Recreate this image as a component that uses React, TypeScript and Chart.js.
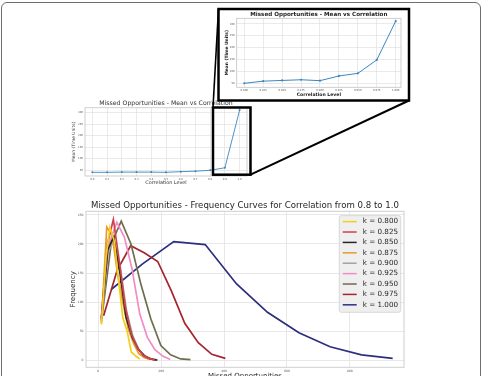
import React, { useEffect, useRef } from "react";
import { Chart, registerables } from "chart.js";

Chart.register(...registerables);

const FONT = '"DejaVu Sans", "Liberation Sans", sans-serif';

// ---- Mean vs correlation (full range) ----
const corrLevels = [0.0, 0.1, 0.2, 0.3, 0.4, 0.5, 0.6, 0.7, 0.8, 0.9, 1.0];
const corrMeans = [40, 40, 41, 41, 41, 40, 43, 45, 49, 60, 312];

// ---- Mean vs correlation (zoomed inset) ----
const insetLevels = [0.8, 0.825, 0.85, 0.875, 0.9, 0.925, 0.95, 0.975, 1.0];
const insetMeans = [49, 58, 61, 64, 60, 80, 91, 148, 312];
const meanTicks = [50, 100, 150, 200, 250, 300];

// ---- Frequency curves ----
const kLabels = [
  "k = 0.800", "k = 0.825", "k = 0.850", "k = 0.875", "k = 0.900",
  "k = 0.925", "k = 0.950", "k = 0.975", "k = 1.000",
];
const kColors = [
  "#F2CF1C", "#D2414B", "#262626", "#E59A2E", "#A3A3A3",
  "#F28CC4", "#6E6E4E", "#A3262E", "#2C2F7E",
];
const x800 = [10, 24, 37, 51, 64, 78, 92, 105, 119, 132];
const y800 = [62, 175, 228, 205, 140, 74, 50, 15, 8, 3];
const x825 = [10, 29, 48, 67, 86, 105, 124, 143, 162, 180];
const y825 = [75, 200, 242, 170, 92, 46, 22, 9, 4, 1];
const x850 = [10, 30, 49, 69, 88, 108, 127, 147, 166, 186];
const y850 = [72, 190, 212, 150, 75, 40, 20, 8, 3, 1];
const x875 = [10, 27, 44, 61, 78, 95, 112, 129, 147, 164];
const y875 = [64, 229, 215, 150, 100, 55, 30, 12, 5, 2];
const x900 = [10, 30, 50, 70, 90, 110, 130, 150, 170, 190];
const y900 = [70, 185, 207, 160, 85, 42, 18, 8, 3, 1];
const x925 = [10, 34, 59, 83, 107, 132, 156, 180, 205, 229];
const y925 = [70, 200, 237, 212, 158, 80, 40, 19, 8, 2];
const x950 = [10, 41, 73, 104, 136, 167, 199, 230, 262, 293];
const y950 = [68, 200, 239, 200, 130, 72, 26, 10, 3, 2];
const x975 = [17, 60, 103, 146, 189, 232, 275, 318, 361, 404];
const y975 = [77, 155, 197, 185, 170, 120, 64, 31, 11, 4];
const x1000 = [41, 141, 240, 340, 439, 538, 638, 737, 837, 936];
const y1000 = [122, 166, 204, 199, 132, 83, 48, 24, 10, 4];
const freqXs = [x800, x825, x850, x875, x900, x925, x950, x975, x1000];
const freqYs = [y800, y825, y850, y875, y900, y925, y950, y975, y1000];
const freqTicksX = [0, 200, 400, 600, 800];
const freqTicksY = [0, 50, 100, 150, 200, 250];

const frame = (color: string, width: number) => ({
  id: "frame",
  beforeDatasetsDraw(chart: any) {
    const { ctx, chartArea: a } = chart;
    ctx.save();
    ctx.strokeStyle = color;
    ctx.lineWidth = width;
    ctx.strokeRect(a.left, a.top, a.right - a.left, a.bottom - a.top);
    ctx.restore();
  },
});

const kLegend = {
  id: "kLegend",
  afterDraw(chart: any) {
    const { ctx, chartArea: a } = chart;
    const w = 61.4;
    const h = 96.7;
    const x0 = a.right - 3.3 - w;
    const y0 = a.top + 4.3;
    ctx.save();
    ctx.beginPath();
    if (ctx.roundRect) ctx.roundRect(x0, y0, w, h, 2);
    else ctx.rect(x0, y0, w, h);
    ctx.fillStyle = "rgba(238,238,238,0.95)";
    ctx.fill();
    ctx.strokeStyle = "#d0d0d0";
    ctx.lineWidth = 0.8;
    ctx.stroke();
    ctx.font = `7.2px ${FONT}`;
    ctx.textBaseline = "middle";
    chart.data.datasets.forEach((ds: any, i: number) => {
      const y = y0 + 6 + i * 10.4;
      ctx.strokeStyle = ds.borderColor;
      ctx.lineWidth = 1.5;
      ctx.beginPath();
      ctx.moveTo(x0 + 3.4, y);
      ctx.lineTo(x0 + 17.4, y);
      ctx.stroke();
      ctx.fillStyle = "#262626";
      ctx.fillText(ds.label, x0 + 23.4, y);
    });
    ctx.restore();
  },
};

const fixedTicks = (vals: number[]) => (scale: any) => {
  scale.ticks = vals.map((v) => ({ value: v }));
};

function meanConfig(p: any): any {
  return {
    type: "line",
    data: {
      datasets: [
        {
          data: p.xs.map((x: number, i: number) => ({ x, y: p.ys[i] })),
          borderColor: "#3b86bd",
          backgroundColor: "#3b86bd",
          borderWidth: p.lineW,
          pointRadius: p.ptR,
          pointBorderWidth: 0,
          tension: 0,
        },
      ],
    },
    options: {
      responsive: false,
      animation: false,
      devicePixelRatio: 1,
      layout: { padding: { left: 0, right: p.padRight, top: 0, bottom: 0 } },
      plugins: {
        legend: { display: false },
        tooltip: { enabled: false },
        title: {
          display: true,
          fullSize: false,
          text: "Missed Opportunities - Mean vs Correlation",
          color: p.titleColor,
          font: { family: FONT, size: p.titleSize, weight: p.bold ? "bold" : "normal", lineHeight: 1.2 },
          padding: { top: p.titlePadTop, bottom: p.titlePadBottom },
        },
      },
      scales: {
        x: {
          type: "linear",
          min: p.xMin,
          max: p.xMax,
          afterBuildTicks: fixedTicks(p.xs),
          afterFit: (s: any) => { s.height = p.xH; },
          grid: { color: "#dcdcdc", lineWidth: 0.6, drawTicks: false },
          border: { display: false },
          ticks: {
            font: { family: FONT, size: 2.6 },
            color: "#555",
            padding: 1.5,
            maxRotation: 0,
            autoSkip: false,
            callback: (v: number) => v.toFixed(p.dec),
          },
          title: {
            display: true,
            text: "Correlation Level",
            color: p.titleColor,
            font: { family: FONT, size: p.xTitleSize, weight: p.bold ? "bold" : "normal", lineHeight: 1.2 },
            padding: { top: 0, bottom: p.xTitlePad },
          },
        },
        y: {
          type: "linear",
          min: p.yMin,
          max: p.yMax,
          afterBuildTicks: fixedTicks(meanTicks),
          afterFit: (s: any) => { s.width = p.yW; },
          grid: { color: "#dcdcdc", lineWidth: 0.6, drawTicks: false },
          border: { display: false },
          ticks: {
            font: { family: FONT, size: 2.6 },
            color: "#555",
            padding: 2,
            autoSkip: false,
          },
          title: {
            display: true,
            text: "Mean (Time Units)",
            color: p.titleColor,
            font: { family: FONT, size: p.yTitleSize, weight: p.bold ? "bold" : "normal", lineHeight: 1.2 },
            padding: { top: p.yTitlePad, bottom: 0 },
          },
        },
      },
    },
    plugins: [frame("#c4c4c4", 0.8)],
  };
}

export default function App() {
  const insetRef = useRef<HTMLCanvasElement>(null);
  const midRef = useRef<HTMLCanvasElement>(null);
  const freqRef = useRef<HTMLCanvasElement>(null);

  useEffect(() => {
    const charts: Chart[] = [];

    charts.push(
      new Chart(insetRef.current!, meanConfig({
        xs: insetLevels, ys: insetMeans, xMin: 0.79, xMax: 1.007, yMin: 32, yMax: 324,
        dec: 3, padRight: 7, xH: 11.7, yW: 16.7,
        titleColor: "#222", titleSize: 5.6, bold: true, titlePadTop: 1.5, titlePadBottom: 0.1,
        xTitleSize: 4.6, xTitlePad: 1.6, yTitleSize: 4.4, yTitlePad: 3.9,
        lineW: 1, ptR: 1.1,
      }))
    );

    charts.push(
      new Chart(midRef.current!, meanConfig({
        xs: corrLevels, ys: corrMeans, xMin: -0.05, xMax: 1.05, yMin: 24, yMax: 322,
        dec: 1, padRight: 5, xH: 12, yW: 17,
        titleColor: "#333", titleSize: 6.2, bold: false, titlePadTop: 1.6, titlePadBottom: 0.7,
        xTitleSize: 4.9, xTitlePad: 2.6, yTitleSize: 4.4, yTitlePad: 3.7,
        lineW: 0.9, ptR: 1,
      }))
    );

    charts.push(
      new Chart(freqRef.current!, {
        type: "line",
        data: {
          datasets: kLabels.map((label, k) => ({
            label,
            data: freqXs[k].map((x, i) => ({ x, y: freqYs[k][i] })),
            borderColor: kColors[k],
            backgroundColor: kColors[k],
            borderWidth: 1.7,
            pointRadius: 0,
            tension: 0,
          })),
        },
        options: {
          responsive: false,
          animation: false,
          devicePixelRatio: 1,
          layout: { padding: { left: 0, right: 8, top: 0, bottom: 0 } },
          plugins: {
            legend: { display: false },
            tooltip: { enabled: false },
            title: {
              display: true,
              fullSize: false,
              text: "Missed Opportunities - Frequency Curves for Correlation from 0.8 to 1.0",
              color: "#262626",
              font: { family: FONT, size: 8.6, weight: "normal", lineHeight: 1.2 },
              padding: { top: 2, bottom: 0 },
            },
          },
          scales: {
            x: {
              type: "linear",
              min: -39,
              max: 972,
              afterBuildTicks: fixedTicks(freqTicksX),
              afterFit: (s: any) => { s.height = 21.7; },
              grid: { color: "#e2e2e2", lineWidth: 0.8, drawTicks: false },
              border: { display: false },
              ticks: { font: { family: FONT, size: 3 }, color: "#555", padding: 2.5, maxRotation: 0 },
              title: {
                display: true,
                text: "Missed Opportunities",
                color: "#262626",
                font: { family: FONT, size: 7, lineHeight: 1.2 },
                padding: { top: 0, bottom: 8.8 },
              },
            },
            y: {
              type: "linear",
              min: -11.3,
              max: 256,
              afterBuildTicks: fixedTicks(freqTicksY),
              afterFit: (s: any) => { s.width = 24; },
              grid: { color: "#e2e2e2", lineWidth: 0.8, drawTicks: false },
              border: { display: false },
              ticks: { font: { family: FONT, size: 3 }, color: "#555", padding: 2.5 },
              title: {
                display: true,
                text: "Frequency",
                color: "#262626",
                font: { family: FONT, size: 7, lineHeight: 1.2 },
                padding: { top: 6.8, bottom: 0 },
              },
            },
          },
        },
        plugins: [frame("#cfcfcf", 1), kLegend],
      } as any)
    );

    return () => charts.forEach((c) => c.destroy());
  }, []);

  const abs = (left: number, top: number, w: number, h: number): React.CSSProperties => ({
    position: "absolute", left, top, width: w, height: h,
  });

  return (
    <div style={{ position: "fixed", left: 0, top: 0, width: 481, height: 376, overflow: "hidden", background: "#fff" }}>
      <div style={{ position: "absolute", left: 1, top: 2, width: 480, height: 420, boxSizing: "border-box", border: "1px solid #6e6e6e", borderRadius: 6 }} />
      <div style={abs(62, 199, 350, 190)}>
        <canvas ref={freqRef} width={350} height={190} style={{ display: "block", width: 350, height: 190 }} />
      </div>
      <div style={abs(68, 98, 184, 90)}>
        <canvas ref={midRef} width={184} height={90} style={{ display: "block", width: 184, height: 90 }} />
      </div>
      <div style={{ ...abs(219, 9, 190, 91), background: "#fff" }} />
      <div style={abs(220, 10, 188, 89)}>
        <canvas ref={insetRef} width={188} height={89} style={{ display: "block", width: 188, height: 89 }} />
      </div>
      <svg width={481} height={376} style={{ position: "absolute", left: 0, top: 0, pointerEvents: "none" }}>
        <rect x={218.5} y={9} width={190.5} height={91.5} fill="none" stroke="#000" strokeWidth={2.5} />
        <rect x={213} y={107.5} width={37.5} height={67.2} fill="none" stroke="#000" strokeWidth={2.5} />
        <line x1={213} y1={107.5} x2={218.5} y2={9} stroke="#000" strokeWidth={1.6} />
        <line x1={250.5} y1={174.7} x2={409} y2={100.5} stroke="#000" strokeWidth={2} />
      </svg>
    </div>
  );
}
